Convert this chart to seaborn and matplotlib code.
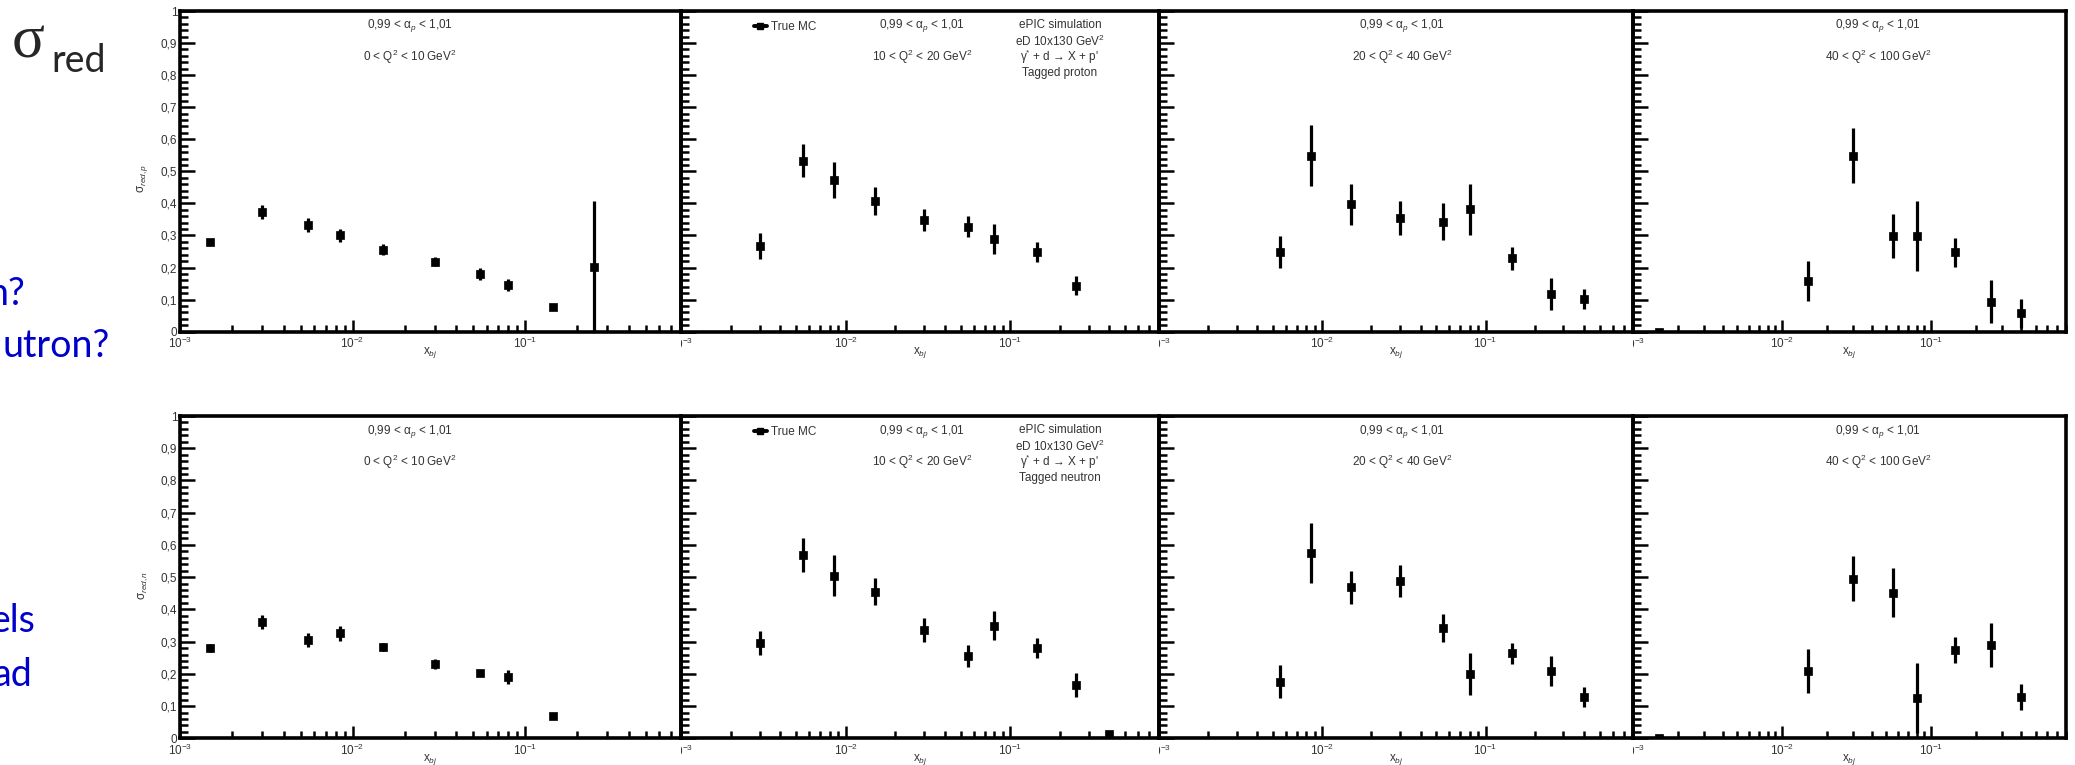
import numpy as np
import pandas as pd
import matplotlib
matplotlib.use("Agg")
import matplotlib.pyplot as plt
from matplotlib.lines import Line2D
from matplotlib.ticker import FixedLocator, LogLocator, MultipleLocator, NullFormatter, FuncFormatter
from matplotlib.transforms import Bbox, TransformedBbox
import seaborn as sns

nan = np.nan

# x_bj bin centres (same bins in every panel)
x_bins = [0.0015, 0.003, 0.0055, 0.0085, 0.015, 0.03, 0.055, 0.08, 0.145, 0.25, 0.40]

# tagged proton, sigma_red,p per Q2 bin
p_q1_val = [0.279, 0.374, 0.333, 0.300, 0.256, 0.218, 0.180, 0.146, 0.078, 0.203, nan]
p_q1_err = [0.010, 0.022, 0.021, 0.020, 0.016, 0.014, 0.018, 0.018, 0.005, 0.205, nan]
p_q2_val = [nan, 0.267, 0.533, 0.473, 0.408, 0.349, 0.328, 0.289, 0.248, 0.144, nan]
p_q2_err = [nan, 0.040, 0.051, 0.056, 0.043, 0.035, 0.033, 0.048, 0.032, 0.029, nan]
p_q3_val = [nan, nan, 0.248, 0.548, 0.397, 0.354, 0.343, 0.382, 0.229, 0.117, 0.103]
p_q3_err = [nan, nan, 0.050, 0.095, 0.064, 0.053, 0.058, 0.080, 0.036, 0.050, 0.031]
p_q4_val = [0.0, nan, nan, nan, 0.158, 0.549, 0.299, 0.299, 0.247, 0.094, 0.057]
p_q4_err = [0.0, nan, nan, nan, 0.062, 0.085, 0.068, 0.109, 0.044, 0.068, 0.045]

# tagged neutron, sigma_red,n per Q2 bin
n_q1_val = [0.280, 0.362, 0.305, 0.326, 0.284, 0.230, 0.202, 0.191, 0.069, nan, nan]
n_q1_err = [0.012, 0.022, 0.022, 0.023, 0.012, 0.015, 0.010, 0.021, 0.008, nan, nan]
n_q2_val = [nan, 0.295, 0.569, 0.504, 0.455, 0.336, 0.256, 0.349, 0.280, 0.166, 0.012]
n_q2_err = [nan, 0.038, 0.053, 0.064, 0.042, 0.038, 0.034, 0.045, 0.032, 0.037, 0.0]
n_q3_val = [nan, nan, 0.176, 0.575, 0.468, 0.489, 0.342, 0.199, 0.264, 0.209, 0.129]
n_q3_err = [nan, nan, 0.050, 0.094, 0.052, 0.050, 0.044, 0.065, 0.033, 0.047, 0.031]
n_q4_val = [0.0, nan, nan, nan, 0.209, 0.495, 0.452, 0.125, 0.274, 0.290, 0.129]
n_q4_err = [0.0, nan, nan, nan, 0.068, 0.070, 0.075, 0.110, 0.041, 0.068, 0.041]

q2_labels = ["0 < Q$^{2}$ < 10 GeV$^{2}$", "10 < Q$^{2}$ < 20 GeV$^{2}$",
             "20 < Q$^{2}$ < 40 GeV$^{2}$", "40 < Q$^{2}$ < 100 GeV$^{2}$"]
alpha_label = "0,99 < α$_{p}$ < 1,01"
info_proton = ["ePIC simulation", "eD 10x130 GeV$^{2}$", "γ$^{*}$ + d → X + p'", "Tagged proton"]
info_neutron = ["ePIC simulation", "eD 10x130 GeV$^{2}$", "γ$^{*}$ + d → X + p'", "Tagged neutron"]

rows = [
    ("σ$_{red,p}$", [(p_q1_val, p_q1_err), (p_q2_val, p_q2_err), (p_q3_val, p_q3_err), (p_q4_val, p_q4_err)], info_proton),
    ("σ$_{red,n}$", [(n_q1_val, n_q1_err), (n_q2_val, n_q2_err), (n_q3_val, n_q3_err), (n_q4_val, n_q4_err)], info_neutron),
]

sns.set_style("ticks")
plt.rcParams["font.family"] = ["Liberation Sans", "DejaVu Sans"]
plt.rcParams["mathtext.fontset"] = "custom"
plt.rcParams["mathtext.rm"] = "Liberation Sans"
plt.rcParams["mathtext.it"] = "Liberation Sans:italic"

W, H = 2075, 765
fig = plt.figure(figsize=(W / 100, H / 100), dpi=100)
fig.patch.set_facecolor("white")


def fx(x):
    return x / W


def fy(y):
    return 1 - y / H


col_edges = [180, 681, 1159, 1633, 2066]
row_spans = [(11, 331.7), (416, 738.3)]
txt_col = "#333333"
fs = 8.5


def ylab(v, pos):
    if abs(v) < 1e-9:
        return "0"
    if abs(v - 1) < 1e-9:
        return "1"
    return f"{v:.1f}".replace(".", ",")


for r, (ytitle, panels, info) in enumerate(rows):
    ytop, ybot = row_spans[r]
    dy = ytop - 11
    for c, (vals, errs) in enumerate(panels):
        x0, x1 = col_edges[c], col_edges[c + 1]
        ax = fig.add_axes([fx(x0), fy(ybot), (x1 - x0) / W, (ybot - ytop) / H])
        ax.set_facecolor("none")
        df = pd.DataFrame({"x": x_bins, "y": vals, "err": errs}).dropna()
        ax.set_xscale("log")
        ax.errorbar(df["x"], df["y"], yerr=df["err"], fmt="none", ecolor="black",
                    elinewidth=2.3, capsize=0, zorder=2)
        sns.scatterplot(data=df, x="x", y="y", marker="s", s=30, color="black",
                        edgecolor="black", linewidth=0.5, ax=ax, zorder=3, legend=False)
        ax.set_xlim(1e-3, 0.8)
        ax.set_ylim(0, 1)
        ax.set_xlabel("")
        ax.set_ylabel("")

        ax.xaxis.set_major_locator(FixedLocator([1e-3, 1e-2, 1e-1]))
        ax.xaxis.set_minor_locator(LogLocator(base=10, subs=np.arange(2, 10), numticks=20))
        ax.xaxis.set_minor_formatter(NullFormatter())
        ax.yaxis.set_major_locator(MultipleLocator(0.1))
        ax.yaxis.set_minor_locator(MultipleLocator(0.02))
        ax.tick_params(which="both", direction="in", top=False, right=False,
                       width=1.8, color="black", labelsize=fs, labelcolor=txt_col)
        ax.tick_params(axis="y", which="major", length=11, pad=2)
        ax.tick_params(axis="y", which="minor", length=6)
        ax.tick_params(axis="x", which="major", length=9, pad=3)
        ax.tick_params(axis="x", which="minor", length=5)
        for s in ax.spines.values():
            s.set_linewidth(2.6)
            s.set_color("black")

        if c == 0:
            ax.yaxis.set_major_formatter(FuncFormatter(ylab))
            ax.set_xticklabels(["10$^{-3}$", "10$^{-2}$", "10$^{-1}$"])
        else:
            ax.set_yticklabels([])
            ax.set_xticklabels(["", "10$^{-2}$", "10$^{-1}$"])
            # 10^-3 label of this pad, cut at the pad edge
            t = fig.text(fx(x0), fy(ybot + 13), "10$^{-3}$", ha="center", va="center",
                         fontsize=fs, color=txt_col)
            t.set_clip_box(TransformedBbox(Bbox.from_extents(fx(x0), 0, fx(x1), 1), fig.transFigure))
            t.set_clip_on(True)

        xc = (x0 + x1) / 2
        fig.text(fx(xc), fy(ybot + 21), "x$_{bj}$", ha="center", va="center",
                 fontsize=fs, color=txt_col)

        tcx = [410, 922, 1402, 1878][c]
        fig.text(fx(tcx), fy(26 + dy), alpha_label, ha="center", va="center", fontsize=fs, color=txt_col)
        fig.text(fx(tcx), fy(57 + dy), q2_labels[c], ha="center", va="center", fontsize=fs, color=txt_col)

        if c == 1:
            for k, line in enumerate(info):
                fig.text(fx(1060), fy([25, 41.5, 57, 73][k] + dy), line, ha="center", va="center",
                         fontsize=fs, color=txt_col)
            handle = Line2D([], [], color="black", marker="s", lw=2.8, ms=5)
            ax.legend([handle], ["True MC"], loc="center left",
                      bbox_to_anchor=((754 - x0) / (x1 - x0), 1 - 16 / (ybot - ytop)),
                      frameon=False, fontsize=fs, handlelength=1.1, handletextpad=0.35,
                      borderpad=0, borderaxespad=0, labelcolor=txt_col)

    fig.text(fx(143), fy([178, 585][r]), ytitle, rotation=90, ha="center", va="center",
             fontsize=fs, color=txt_col)

# slide text on the left
fig.text(fx(12), fy(57), "σ", fontsize=44, family=["Liberation Serif", "DejaVu Serif"], va="baseline")
fig.text(fx(51), fy(72), "red", fontsize=27, family=["Lato", "DejaVu Sans"], va="baseline")
blue = "#0000cc"
for s, xr, yb in [("n?", 25, 305), ("utron?", 110, 357), ("els", 35, 632), ("ad", 33, 686)]:
    fig.text(fx(xr), fy(yb), s, ha="right", va="baseline", fontsize=27, color=blue,
             family=["Lato", "DejaVu Sans"])

fig.savefig("out.png", dpi=100, facecolor="white")
